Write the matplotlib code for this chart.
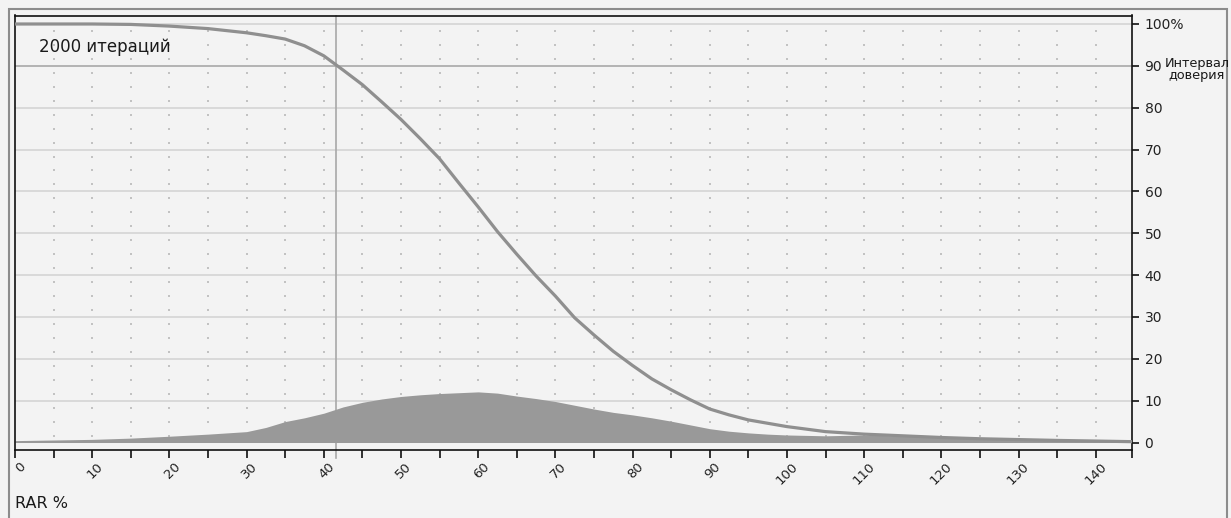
import matplotlib
matplotlib.use("Agg")
import matplotlib.pyplot as plt
from matplotlib.patches import Rectangle
from matplotlib.transforms import ScaledTranslation
import numpy as np

# ---- data ----
rar_x = [0, 5, 10, 15, 20, 25, 30, 32.5, 35, 37.5, 40, 42.5, 45, 47.5, 50, 52.5,
         55, 57.5, 60, 62.5, 65, 67.5, 70, 72.5, 75, 77.5, 80, 82.5, 85, 87.5,
         90, 92.5, 95, 97.5, 100, 105, 110, 115, 120, 125, 130, 135, 140, 144.7]
confidence = [100, 100, 100, 99.9, 99.5, 98.9, 97.9, 97.2, 96.4, 94.8, 92.4, 89.0,
              85.5, 81.4, 77.2, 72.6, 67.8, 62.0, 56.3, 50.4, 45.0, 39.8, 35.0,
              29.8, 25.7, 21.8, 18.4, 15.2, 12.6, 10.2, 8.0, 6.6, 5.4, 4.6, 3.8,
              2.6, 2.0, 1.6, 1.2, 0.9, 0.7, 0.5, 0.35, 0.2]
density = [0.45, 0.6, 0.75, 1.05, 1.5, 2.0, 2.6, 3.6, 5.0, 5.9, 7.0, 8.5, 9.6,
           10.4, 11.0, 11.4, 11.7, 11.9, 12.1, 11.8, 11.1, 10.5, 9.8, 8.9, 8.0,
           7.2, 6.6, 5.9, 5.1, 4.2, 3.3, 2.7, 2.3, 2.0, 1.8, 1.6, 1.8, 1.55,
           1.25, 0.9, 0.8, 0.6, 0.45, 0.25]
x_major = [0, 10, 20, 30, 40, 50, 60, 70, 80, 90, 100, 110, 120, 130, 140]
x_minor = [5, 15, 25, 35, 45, 55, 65, 75, 85, 95, 105, 115, 125, 135, 144.7]
y_ticks = [0, 10, 20, 30, 40, 50, 60, 70, 80, 90, 100]
y_labels = ["0", "10", "20", "30", "40", "50", "60", "70", "80", "90", "100%"]
ci_level = 90
ci_x = 41.6
iterations_label = "2000 итераций"
x_title = "RAR %"
ci_title = "Интервал\nдоверия"

W, H = 1231, 518
BG = "#f3f3f3"
fig = plt.figure(figsize=(W / 100, H / 100), dpi=100, facecolor=BG)
plt.rcParams['font.family'] = ['DejaVu Sans']

L, R, T, B = 15, 1132, 15.5, 450
ax = fig.add_axes([L / W, 1 - B / H, (R - L) / W, (B - T) / H])
ax.set_facecolor(BG)
ax.set_xlim(0, 144.7)
ax.set_ylim(-1.79, 102.03)

# outer frame
fig.add_artist(Rectangle((8.5 / W, -0.01), (1226.5 - 8.5) / W, 1 - 9 / H + 0.01,
                         transform=fig.transFigure, fill=False,
                         edgecolor="#8c8c8c", linewidth=1.5))

# dotted grid
dx = np.arange(5, 141, 5)
dy = (2 * np.arange(30) + 1) * 5 / 3
gx, gy = np.meshgrid(dx, dy)
ax.scatter(gx.ravel(), gy.ravel(), s=0.9, marker='s', color="#c2c2c2",
           linewidths=0, zorder=1)

# horizontal grid lines
for v in y_ticks:
    if v == 0:
        continue
    ax.axhline(v, color="#a8a8a8" if v == ci_level else "#d4d4d4",
               linewidth=1.2, zorder=1.5)
ax.axvline(ci_x, ymin=-0.018, ymax=1, color="#a8a8a8", linewidth=1.2,
           zorder=1.5, clip_on=False)

ax.fill_between(rar_x, 0, density, color="#999999", linewidth=0, zorder=2)
ax.plot(rar_x, confidence, color="#8f8f8f", linewidth=2.3, zorder=3,
        solid_capstyle='round', solid_joinstyle='round')

# axes spines
for s in ax.spines.values():
    s.set_color("#111111")
    s.set_linewidth(1.2)

# x ticks
ax.set_xticks(x_major)
ax.set_xticks(x_minor, minor=True)
ax.set_xticklabels([str(v) for v in x_major], rotation=45, ha='right',
                   va='top', fontsize=9.5, color="#222222")
ax.tick_params(axis='x', which='both', direction='out', length=5.5,
               width=1.2, color="#111111", pad=2)
off = ScaledTranslation(0.135, 0, fig.dpi_scale_trans)
for lab in ax.get_xticklabels():
    lab.set_transform(lab.get_transform() + off)

# y ticks on right
ax.yaxis.tick_right()
ax.set_yticks(y_ticks)
ax.set_yticklabels(y_labels, fontsize=10, color="#222222")
ax.tick_params(axis='y', which='both', direction='out', length=5,
               width=1.2, color="#111111", pad=4)
ax.tick_params(axis='y', left=False)

fig.text(39 / W, 1 - 52 / H, iterations_label, fontsize=12, color="#1a1a1a",
         va='baseline', ha='left')
fig.text(15 / W, 1 - 508 / H, x_title, fontsize=11.5, color="#1a1a1a",
         va='baseline', ha='left')
fig.text(1197 / W, 1 - 57 / H, ci_title, fontsize=9.3, color="#1a1a1a",
         va='top', ha='center', multialignment='center', linespacing=0.88)

fig.savefig("out.png", dpi=100, facecolor=BG)
